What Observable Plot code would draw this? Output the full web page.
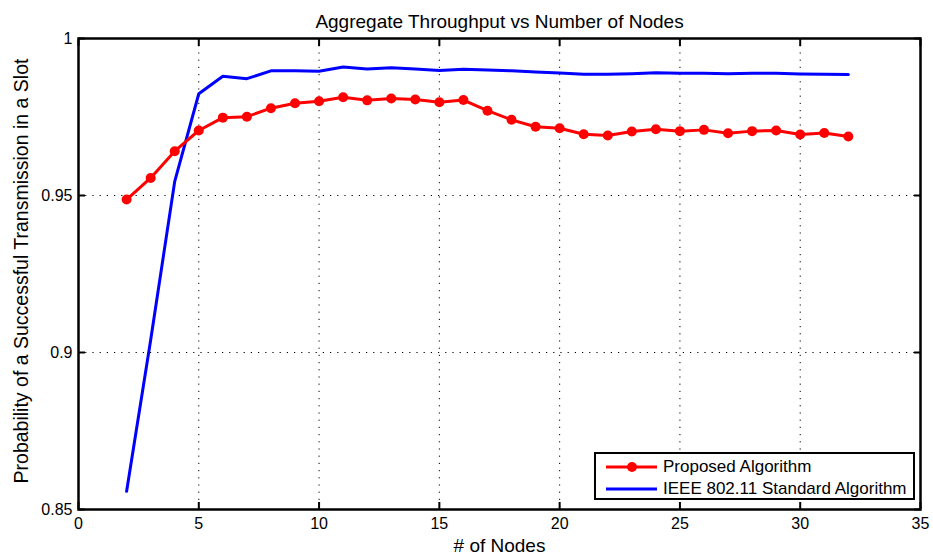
<!DOCTYPE html>
<html>
<head>
<meta charset="utf-8">
<script src="https://cdn.jsdelivr.net/npm/d3@7"></script>
<script src="https://cdn.jsdelivr.net/npm/@observablehq/plot@0.6"></script>
<style>
  html, body { margin: 0; padding: 0; background: #fff; }
  #wrap { position: relative; width: 933px; height: 557px; font-family: "Liberation Sans", Arial, sans-serif; }
  #legend { position: absolute; left: 594px; top: 452px; width: 321px; height: 48px; border: 2px solid #000; background: #fff; box-sizing: border-box; font-size: 17px; color: #000; }
  .row { position: absolute; left: 10px; height: 20px; display: flex; align-items: center; white-space: nowrap; }
  .row svg { margin-right: 6px; }
</style>
</head>
<body>
<div id="wrap"></div>
<script>
const nodes = [2,3,4,5,6,7,8,9,10,11,12,13,14,15,16,17,18,19,20,21,22,23,24,25,26,27,28,29,30,31,32];
const proposed = [0.9487,0.9556,0.9641,0.9707,0.9748,0.9751,0.9778,0.9794,0.9800,0.9813,0.9803,0.9809,0.9806,0.9797,0.9804,0.9770,0.9741,0.9719,0.9714,0.9695,0.9691,0.9704,0.9711,0.9705,0.9709,0.9698,0.9705,0.9707,0.9694,0.9699,0.9688];
const standard = [0.8558,0.9040,0.9545,0.9824,0.9880,0.9872,0.9897,0.9897,0.9896,0.9909,0.9903,0.9907,0.9903,0.9898,0.9902,0.9900,0.9897,0.9893,0.9890,0.9886,0.9886,0.9888,0.9891,0.9889,0.9889,0.9888,0.9889,0.9889,0.9887,0.9886,0.9885];
const xTicks = [0,5,10,15,20,25,30,35];
const yTicks = [0.85,0.9,0.95,1];
const yTickLabels = ["0.85","0.9","0.95","1"];
const seriesNames = ["Proposed Algorithm","IEEE 802.11 Standard Algorithm"];
const seriesColors = ["#ff0000","#0000ff"];
const titleText = "Aggregate Throughput vs Number of Nodes";
const xLabel = "# of Nodes";
const yLabel = "Probability of a Successful Transmission in a Slot";

const propData = nodes.map((n,i)=>({n, v: proposed[i]}));
const stdData = nodes.map((n,i)=>({n, v: standard[i]}));

const chart = Plot.plot({
  width: 933,
  height: 557,
  marginLeft: 78,
  marginRight: 13,
  marginTop: 38,
  marginBottom: 48,
  style: {fontFamily: '"Liberation Sans", Arial, sans-serif', fontSize: "16px", color: "#000", background: "#fff"},
  x: {domain: [0,35], ticks: xTicks},
  y: {domain: [0.85,1], ticks: yTicks},
  marks: [
    Plot.gridX(xTicks.slice(1,-1), {stroke: "#000", strokeOpacity: 1, strokeWidth: 1, strokeDasharray: "1.2,6"}),
    Plot.gridY(yTicks.slice(1,-1), {stroke: "#000", strokeOpacity: 1, strokeWidth: 1, strokeDasharray: "1.2,6"}),
    Plot.axisX({ticks: xTicks, tickSize: -7, tickPadding: 15, strokeWidth: 2, label: null, fontSize: 16}),
    Plot.axisX({anchor: "top", ticks: xTicks, tickSize: -7, tickFormat: () => "", strokeWidth: 2, label: null}),
    Plot.axisY({ticks: yTicks, tickSize: -7, tickPadding: 13, strokeWidth: 2, label: null, fontSize: 16, tickFormat: (d) => yTickLabels[yTicks.indexOf(d)] ?? d}),
    Plot.axisY({anchor: "right", ticks: yTicks, tickSize: -7, tickFormat: () => "", strokeWidth: 2, label: null}),
    Plot.line(stdData, {x: "n", y: "v", stroke: seriesColors[1], strokeWidth: 3}),
    Plot.line(propData, {x: "n", y: "v", stroke: seriesColors[0], strokeWidth: 3}),
    Plot.dot(propData, {x: "n", y: "v", fill: seriesColors[0], r: 5}),
    Plot.frame({stroke: "#000", strokeWidth: 2.5}),
    Plot.text([titleText], {frameAnchor: "top", textAnchor: "middle", lineAnchor: "middle", dy: -17, fontSize: 19, fill: "#000"}),
    Plot.text([xLabel], {frameAnchor: "bottom", textAnchor: "middle", lineAnchor: "middle", dy: 36, fontSize: 19, fill: "#000"}),
    Plot.text([yLabel], {frameAnchor: "left", textAnchor: "middle", lineAnchor: "middle", dx: -57, dy: -3, rotate: -90, fontSize: 19.5, fill: "#000"})
  ]
});
const wrap = document.getElementById("wrap");
wrap.appendChild(chart);

const legend = document.createElement("div");
legend.id = "legend";
seriesNames.forEach((name, i) => {
  const row = document.createElement("div");
  row.className = "row";
  row.style.top = (i === 0 ? 3 : 24.5) + "px";
  const marker = i === 0 ? `<circle cx="26" cy="6" r="5" fill="${seriesColors[i]}"/>` : "";
  row.innerHTML = `<svg width="51" height="12"><line x1="0" y1="6" x2="51" y2="6" stroke="${seriesColors[i]}" stroke-width="3"/>${marker}</svg><span>${name}</span>`;
  legend.appendChild(row);
});
wrap.appendChild(legend);
</script>
</body>
</html>
